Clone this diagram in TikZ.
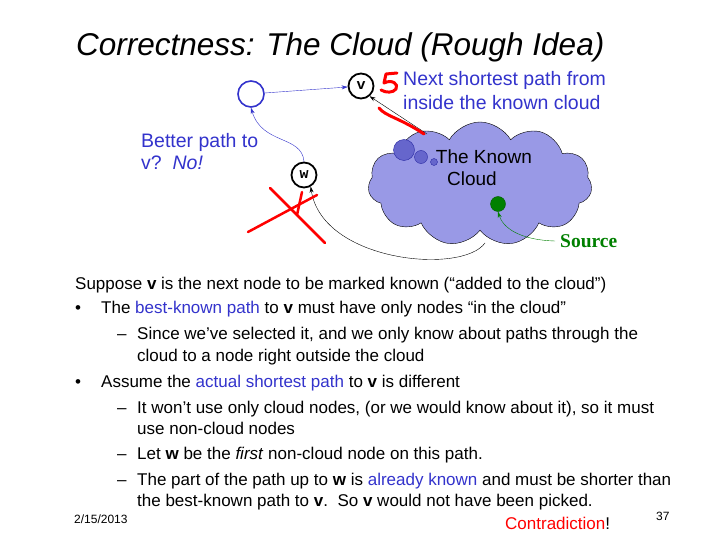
\documentclass[tikz,border=0pt]{standalone}
\usepackage{fontspec}
\setmainfont{Liberation Sans}
\setmonofont{Liberation Mono}
\newfontfamily\srcfont{Liberation Serif}
\usetikzlibrary{shapes.symbols,arrows.meta}
\definecolor{slideblue}{RGB}{51,51,204}
\definecolor{cloudfill}{RGB}{153,153,230}
\definecolor{bubblefill}{RGB}{102,102,204}
\definecolor{srcgreen}{RGB}{0,128,0}
\tikzset{
  gnode/.style={circle,draw,line width=1.8pt,minimum size=25pt,inner sep=0pt,
    font=\ttfamily\bfseries\fontsize{15}{15}\selectfont},
  bubble/.style={circle,draw=slideblue!80!black,fill=bubblefill,inner sep=0pt},
  body/.style={anchor=base west,inner sep=0pt,font=\fontsize{17}{20}\selectfont},
  bluetext/.style={anchor=base west,inner sep=0pt,text=slideblue,font=\fontsize{19.5}{22}\selectfont},
  scribble/.style={red,line width=3pt,line cap=round,line join=round},
  small/.style={anchor=base west,inner sep=0pt,font=\fontsize{12}{14}\selectfont}
}
\newcommand{\hl}[1]{\textcolor{slideblue}{#1}}
\begin{document}
\begin{tikzpicture}[x=1pt, y=-1pt, line cap=round, >={Stealth[length=6pt,width=4pt]}]
    \useasboundingbox[fill=white] (0,0) rectangle (720,540);
    % title
    \node[anchor=base west,inner sep=0pt,font=\itshape\fontsize{31.5}{34}\selectfont] (title) at (76,56) {Correctness: The Cloud (Rough Idea)};
    % the cloud
    \node[cloud,cloud puffs=11,cloud puff arc=120,aspect=1.9,draw,fill=cloudfill,
      minimum width=224pt,minimum height=124pt,inner sep=0pt] (cloud) at (480,184) {};
    \node[bubble,minimum size=21pt] (b1) at (404,150) {};
    \node[bubble,minimum size=13pt] (b2) at (421,157) {};
    \node[bubble,minimum size=7pt] (b3) at (434,162) {};
    \node[font=\fontsize{19}{22}\selectfont,inner sep=0pt] (known) at (484,157) {The Known};
    \node[font=\fontsize{19}{22}\selectfont,inner sep=0pt] (cloudtxt) at (472,179) {Cloud};
    \node[circle,draw=srcgreen!70!black,fill=srcgreen,minimum size=15pt,inner sep=0pt] (src) at (498,204) {};
    \node[anchor=west,inner sep=0pt,text=srcgreen,font=\srcfont\bfseries\fontsize{19.5}{22}\selectfont] (srclabel) at (560,241) {Source};
    % graph nodes
    \node[circle,draw=slideblue,line width=1.6pt,minimum size=26pt,inner sep=0pt] (prev) at (251,94) {};
    \node[gnode] (v) at (361,86) {v};
    \node[gnode] (w) at (304,175) {w};
    \coordinate (cedge) at (427,134);
    \coordinate (cbottom) at (485,243);
    % connectors
    \draw[->,slideblue] (prev) -- (v);
    \draw[->,slideblue] (w.north) .. controls (302,135) and (262,145) .. (prev.south);
    \draw[->] (cedge) -- (v.-50);
    \draw[->] (cbottom) .. controls (462,275) and (322,262) .. (w.-60);
    \draw[->,srcgreen] ([xshift=-5pt]srclabel.west) .. controls (520,240) and (503,228) .. (src.south);
    % red marks
    \draw[scribble] (379,108) .. controls (385,116) and (400,118) .. (424,134);
    \draw[scribble,line width=3pt] (397,73) -- (386,74) -- (384,83)
      .. controls (392,79) and (399,84) .. (396,89) .. controls (393,93) and (386,93) .. (381,90);
    \draw[scribble,line width=2.5pt] (248,232) -- (317,195);
    \draw[scribble,line width=2.5pt] (270,188) -- (325,243);
    \draw[scribble,line width=2.5pt] (302,192) -- (297,215);
    % labels
    \node[bluetext] (nextl1) at (403,86) {Next shortest path from};
    \node[bluetext] (nextl2) at (403,110) {inside the known cloud};
    \node[bluetext] (betterl1) at (141,148) {Better path to};
    \node[bluetext] (betterl2) at (141,170) {v?\ \ \textit{No!}};
    % body text
    \node[body] (t1) at (75,289) {Suppose \textbf{v} is the next node to be marked known (“added to the cloud”)};
    \node[body] (d1) at (75,313) {•};
    \node[body] (t2) at (101,313) {The \hl{best-known path} to \textbf{v} must have only nodes “in the cloud”};
    \node[body] (d2) at (117,339) {–};
    \node[body] (t3) at (137,339) {Since we’ve selected it, and we only know about paths through the};
    \node[body] (t4) at (137,361) {cloud to a node right outside the cloud};
    \node[body] (d3) at (75,387) {•};
    \node[body] (t5) at (101,387) {Assume the \hl{actual shortest path} to \textbf{v} is different};
    \node[body] (d4) at (117,413) {–};
    \node[body] (t6) at (137,413) {It won’t use only cloud nodes, (or we would know about it), so it must};
    \node[body] (t7) at (137,434) {use non-cloud nodes};
    \node[body] (d5) at (117,459) {–};
    \node[body] (t8) at (137,459) {Let \textbf{w} be the \textit{first} non-cloud node on this path.};
    \node[body] (d6) at (117,485) {–};
    \node[body] (t9) at (137,485) {The part of the path up to \textbf{w} is \hl{already known} and must be shorter than};
    \node[body] (t10) at (137,506) {the best-known path to \textbf{v}.\ \ So \textbf{v} would not have been picked.};
    \node[body,text=red] (contra) at (505,529) {Contradiction\textcolor{black}{!}};
    \node[small] (date) at (74,523) {2/15/2013};
    \node[small] (page) at (656,520) {37};
\end{tikzpicture}
\end{document}
